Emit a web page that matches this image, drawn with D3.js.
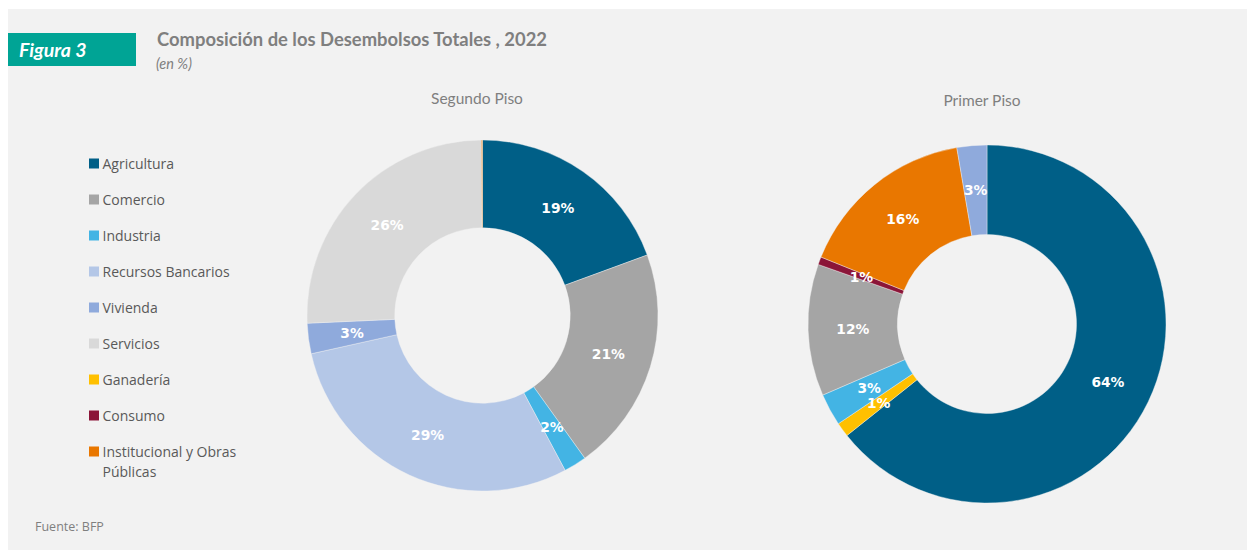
<!DOCTYPE html>
<html>
<head>
<meta charset="utf-8">
<script src="https://cdn.jsdelivr.net/npm/d3@7"></script>
<style>
  html, body { margin: 0; padding: 0; background: #ffffff; }
  svg { display: block; }
</style>
</head>
<body>
<svg id="chart" width="1247" height="550"></svg>
<script>
// Sector categories shown in the legend, with their colours
const categories = ["Agricultura", "Comercio", "Industria", "Recursos Bancarios", "Vivienda",
  "Servicios", "Ganadería", "Consumo", "Institucional y Obras Públicas"];
const categoryColors = ["#005f87", "#a5a5a5", "#43b4e4", "#b4c7e7", "#8faadc",
  "#d9d9d9", "#ffc000", "#8b1538", "#e97700"];

// Segundo Piso: share of disbursements (%), in drawing order
const segundoCats = ["Agricultura", "Comercio", "Industria", "Recursos Bancarios", "Vivienda",
  "Servicios", "Ganadería", "Consumo", "Institucional y Obras Públicas"];
const segundoValues = [19.4, 20.7, 2.1, 29.3, 2.8, 25.6, 0, 0, 0.1];

// Primer Piso: share of disbursements (%), in drawing order
const primerCats = ["Agricultura", "Ganadería", "Industria", "Comercio", "Consumo",
  "Institucional y Obras Públicas", "Vivienda"];
const primerValues = [64.3, 1.3, 2.9, 11.9, 0.7, 16.2, 2.7];

const chartTitles = ["Segundo Piso", "Primer Piso"];

const svg = d3.select("#chart");
const color = d3.scaleOrdinal().domain(categories).range(categoryColors);

// Panel background
svg.append("rect").attr("x", 8).attr("y", 9).attr("width", 1239).attr("height", 541)
  .attr("fill", "#f2f2f2");

// Figure tag
svg.append("rect").attr("x", 8).attr("y", 33).attr("width", 128).attr("height", 33)
  .attr("fill", "#00a495");
svg.append("text").attr("x", 19).attr("y", 57)
  .attr("font-family", "Lato").attr("font-weight", "bold").attr("font-style", "italic")
  .attr("font-size", 19.5).attr("fill", "#ffffff").text("Figura 3");

// Title and unit
svg.append("text").attr("x", 157).attr("y", 46)
  .attr("font-family", "Lato").attr("font-weight", "bold")
  .attr("font-size", 18.4).attr("fill", "#7f7f7f")
  .text("Composición de los Desembolsos Totales , 2022");
svg.append("text").attr("x", 156).attr("y", 69)
  .attr("font-family", "Lato").attr("font-style", "italic")
  .attr("font-size", 14.5).attr("fill", "#7f7f7f").text("(en %)");

// Source note
svg.append("text").attr("x", 35).attr("y", 531)
  .attr("font-family", "Open Sans").attr("font-size", 12.5).attr("fill", "#7f7f7f")
  .text("Fuente: BFP");

// Legend
const legendY = d3.scalePoint().domain(categories).range([163.5, 451.5]);
const legend = svg.append("g").selectAll("g").data(categories).join("g")
  .attr("transform", d => `translate(89,${legendY(d)})`);
legend.append("rect").attr("x", 0).attr("y", -5).attr("width", 10).attr("height", 10)
  .attr("fill", d => color(d));
legend.append("text").attr("x", 13.5).attr("y", 5)
  .attr("font-family", "Open Sans").attr("font-size", 14).attr("fill", "#595959")
  .each(function (d) {
    const t = d3.select(this);
    if (d === "Institucional y Obras Públicas") {
      t.append("tspan").attr("x", 13.5).text("Institucional y Obras");
      t.append("tspan").attr("x", 13.5).attr("dy", 20).text("Públicas");
    } else {
      t.text(d);
    }
  });

// Donut charts
const pie = d3.pie().sort(null).value(d => d.value);
const donuts = [
  { cats: segundoCats, values: segundoValues, cx: 482.5, cy: 315.5, r: 175.5, titleX: 477, titleY: 104 },
  { cats: primerCats, values: primerValues, cx: 987, cy: 324, r: 179, titleX: 982, titleY: 106 }
];

donuts.forEach((cfg, i) => {
  const rows = cfg.cats.map((c, j) => ({ cat: c, value: cfg.values[j] }));
  const arc = d3.arc().innerRadius(cfg.r * 0.5).outerRadius(cfg.r);
  const g = svg.append("g").attr("transform", `translate(${cfg.cx},${cfg.cy})`);
  const arcs = pie(rows);

  g.selectAll("path").data(arcs).join("path")
    .attr("d", arc)
    .attr("fill", d => color(d.data.cat))
    .attr("stroke", d => d.data.value > 0 ? "#f2f2f2" : "none")
    .attr("stroke-width", 0.4);

  g.selectAll("text").data(arcs.filter(d => Math.round(d.data.value) > 0)).join("text")
    .attr("transform", d => `translate(${arc.centroid(d)})`)
    .attr("text-anchor", "middle").attr("dy", "0.36em")
    .attr("font-family", "DejaVu Sans").attr("font-weight", "bold")
    .attr("font-size", 13.8).attr("fill", "#ffffff")
    .text(d => Math.round(d.data.value) + "%");

  svg.append("text").attr("x", cfg.titleX).attr("y", cfg.titleY)
    .attr("text-anchor", "middle")
    .attr("font-family", "Lato").attr("font-size", 15.5).attr("fill", "#7f7f7f")
    .text(chartTitles[i]);
});
</script>
</body>
</html>
